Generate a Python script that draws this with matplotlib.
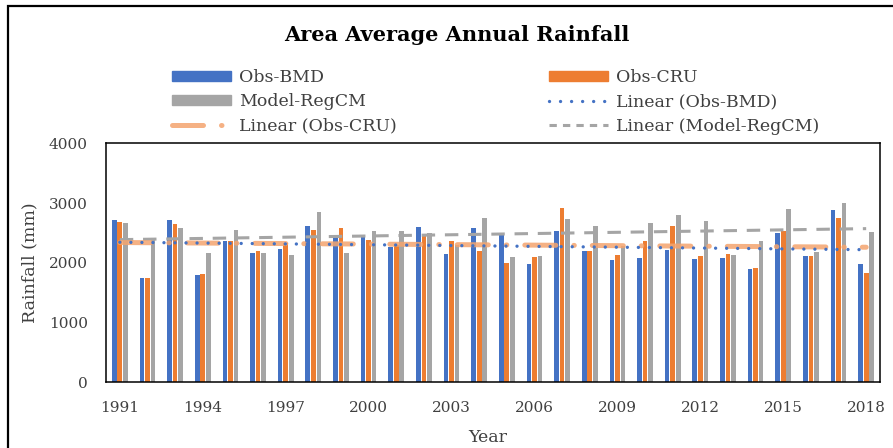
import numpy as np
import matplotlib
matplotlib.use("Agg")
import matplotlib.pyplot as plt
from matplotlib.patches import Patch, Rectangle
from matplotlib.lines import Line2D

years = list(range(1991, 2019))
obs_bmd = [2710, 1750, 2710, 1790, 2370, 2170, 2230, 2610, 2455, 2425, 2270, 2595, 2155, 2580,
           2483, 1975, 2540, 2200, 2040, 2075, 2220, 2060, 2075, 1900, 2505, 2115, 2890, 1985]
obs_cru = [2680, 1750, 2650, 1805, 2370, 2195, 2330, 2555, 2580, 2385, 2300, 2465, 2370, 2200,
           2003, 2100, 2925, 2200, 2130, 2370, 2610, 2115, 2155, 1920, 2540, 2115, 2750, 1825]
model_regcm = [2660, 2400, 2580, 2170, 2555, 2170, 2130, 2850, 2170, 2540, 2540, 2500, 2300, 2750,
               2100, 2115, 2735, 2610, 2280, 2670, 2795, 2700, 2130, 2370, 2905, 2180, 3010, 2520]
year_ticks = list(range(1991, 2019, 3))

c_blue = "#4472C4"
c_orange = "#ED7D31"
c_gray = "#A5A5A5"
txt = "#404040"

plt.rcParams["font.family"] = ["DejaVu Serif"]

fig = plt.figure(figsize=(8.93, 4.48), dpi=100)
ax = fig.add_axes([106 / 893, 1 - 382 / 448, 774 / 893, 238.5 / 448])

x = np.array(years, dtype=float)
w = 0.17
ax.bar(x - 0.2, obs_bmd, width=w, color=c_blue, zorder=2)
ax.bar(x, obs_cru, width=w, color=c_orange, zorder=2)
ax.bar(x + 0.2, model_regcm, width=w, color=c_gray, zorder=2)

# linear trendlines
def trend(vals):
    k, b = np.polyfit(x, vals, 1)
    return k * x + b

ax.plot(x, trend(model_regcm), color=c_gray, lw=2.2, linestyle=(0, (4.4, 3.2)), zorder=3)
ax.plot(x, trend(obs_cru), color="#F4A46E", lw=3.6, alpha=0.85, dash_capstyle="round",
        linestyle=(0, (6.2, 3.6, 0.1, 3.6)), zorder=3)
ax.plot(x, trend(obs_bmd), color=c_blue, lw=2.4, dash_capstyle="round",
        linestyle=(0, (0.01, 3.3)), zorder=4)

ax.set_xlim(1990.5, 2018.5)
ax.set_ylim(0, 4000)
ax.set_yticks([0, 1000, 2000, 3000, 4000])
ax.set_xticks(year_ticks)
ax.tick_params(length=0, labelsize=11, colors=txt)
ax.tick_params(axis="y", pad=13)
ax.tick_params(axis="x", pad=14)
for s in ax.spines.values():
    s.set_linewidth(1.1)
    s.set_color("black")

ax.set_ylabel("Rainfall (mm)", fontsize=12.5, color=txt, va="center")
ax.yaxis.set_label_coords(-0.098, 0.5)
ax.set_xlabel("Year", fontsize=12.5, color=txt, va="center")
ax.xaxis.set_label_coords(0.4935, -0.232)

fig.text(0.511, 1 - 35 / 448, "Area Average Annual Rainfall", ha="center", va="center",
         fontsize=15, fontweight="bold", color="black")

# legend, two columns placed separately
h_bmd = Patch(color=c_blue, label="Obs-BMD")
h_cru = Patch(color=c_orange, label="Obs-CRU")
h_reg = Patch(color=c_gray, label="Model-RegCM")
h_lbmd = Line2D([], [], color=c_blue, lw=2.4, dash_capstyle="round",
                linestyle=(0, (0.01, 3.3)), label="Linear (Obs-BMD)")
h_lcru = Line2D([], [], color="#F4A46E", lw=3.6, alpha=0.85, dash_capstyle="round",
                linestyle=(0, (6.2, 3.6, 0.1, 3.6)), label="Linear (Obs-CRU)")
h_lreg = Line2D([], [], color=c_gray, lw=2.2, linestyle=(0, (2.4, 2.0)),
                label="Linear (Model-RegCM)")

leg_kw = dict(frameon=False, fontsize=12.5, handlelength=3.4, handleheight=0.55,
              handletextpad=0.45, labelspacing=0.42, borderpad=0, borderaxespad=0,
              loc="upper left", bbox_transform=fig.transFigure, labelcolor=txt)
leg1 = ax.legend(handles=[h_bmd, h_reg, h_lcru], bbox_to_anchor=(172 / 893, 1 - 69 / 448), **leg_kw)
ax.add_artist(leg1)
ax.legend(handles=[h_cru, h_lbmd, h_lreg], bbox_to_anchor=(549 / 893, 1 - 69 / 448), **leg_kw)

# outer frame of the chart
fig.patches.append(Rectangle((7.5 / 893, -0.1), 2, 1 - 6 / 448 + 0.1, transform=fig.transFigure,
                             fill=False, edgecolor="black", lw=1.6))

fig.savefig("out.png", dpi=100)
